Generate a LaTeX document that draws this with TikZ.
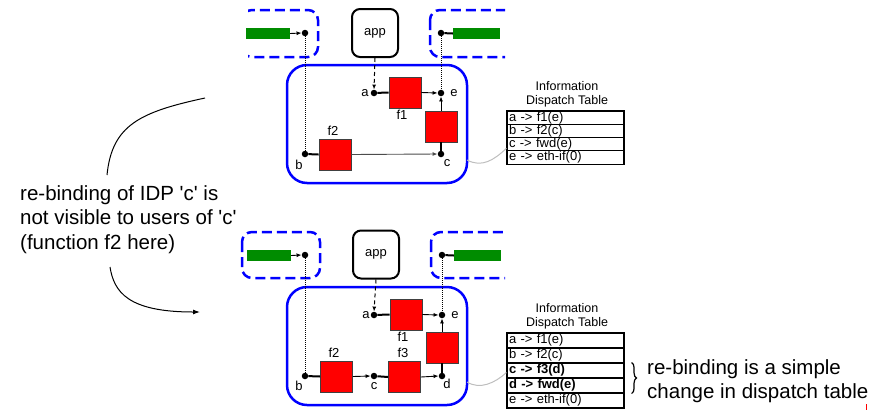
\documentclass[tikz,border=0pt]{standalone}
\usepackage{fontspec}
\setmainfont{Liberation Sans}
\usetikzlibrary{arrows.meta,decorations.pathreplacing,calc}
\definecolor{netblue}{RGB}{0,0,255}
\definecolor{ifgreen}{RGB}{0,140,0}
\definecolor{fnred}{RGB}{255,0,0}
\definecolor{leadgray}{RGB}{190,190,190}
\begin{document}
\begin{tikzpicture}[x=1pt,y=-1pt,
  smallfont/.style={font=\fontsize{12.5}{14}\selectfont},
  rowfont/.style={font=\fontsize{13}{14}\selectfont},
  lbl/.style={font=\fontsize{13}{14}\selectfont,inner sep=0pt},
  dot/.style={circle,fill=black,inner sep=0pt,minimum size=6.5pt},
  fn/.style={draw=black!75,line width=0.8pt,fill=fnred,minimum width=32pt,minimum height=31pt,inner sep=0pt},
  wire/.style={line width=2pt},
  flow/.style={line width=0.9pt,-{Latex[length=5pt,width=4pt]}},
  ifbar/.style={fill=ifgreen,minimum height=11pt,inner sep=0pt},
  hostbox/.style={draw=netblue,line width=2.5pt,rounded corners=20pt,minimum width=180pt,minimum height=118pt,inner sep=0pt},
  remote/.style={draw=netblue,line width=2.5pt,dash pattern=on 10pt off 5pt,rounded corners=10pt},
  appbox/.style={draw=black,line width=2pt,rounded corners=8pt,minimum width=46pt,minimum height=48pt,inner sep=0pt,font=\fontsize{13}{14}\selectfont},
  binding/.style={line width=0.7pt,dash pattern=on 1pt off 1pt},
  appcall/.style={line width=1pt,dash pattern=on 4pt off 3pt,-{Latex[length=5pt,width=4pt]}},
  idtrow/.style={draw=black,line width=1.1pt,minimum width=117pt,text width=113pt,align=left,inner xsep=2pt,inner ysep=0pt,rowfont},
  leader/.style={draw=leadgray,line width=1pt},
  bigtext/.style={font=\fontsize{20.5}{24.5}\selectfont,align=left,inner sep=0pt}
]
\useasboundingbox (0,0) rectangle (890,410);

% ---------------- before re-binding ----------------
\begin{scope}
  \begin{scope}
    \clip (248,0) rectangle (505,60);
    \draw[remote] (242,10) rectangle (318,57);
    \draw[remote] (430,10) rectangle (530,57);
  \end{scope}
  \node[ifbar,minimum width=44pt] (gL1) at (268,33.5) {};
  \node[ifbar,minimum width=47pt] (gR1) at (476.5,33.5) {};
  \node[appbox] (app1) at (375,33) {app};
  \node[hostbox] (host1) at (377,124) {};

  \node[dot] (dL1) at (305,33) {};
  \node[dot] (dR1) at (441,33) {};
  \node[dot] (a1) at (374,93) {};
  \node[dot] (e1) at (441,93) {};
  \node[dot] (b1) at (305,154) {};
  \node[dot] (c1) at (441,154) {};
  \node[fn] (f11) at (405,92.5) {};
  \node[fn] (fw1) at (441,126.5) {};
  \node[fn] (f21) at (335,154.5) {};

  \draw[binding] (dL1) -- (b1);
  \draw[binding] (dR1) -- (e1);
  \draw[flow] (gL1.east) -- (dL1.west);
  \draw[wire] (dR1) -- (gR1.west);
  \draw[appcall] (app1.south) -- (a1.north);
  \draw[wire] (a1) -- (f11.west);
  \draw[flow] (f11.east) -- (e1.west);
  \draw[flow] (fw1.north) -- (e1.south);
  \draw[wire] (fw1.south) -- (c1);
  \draw[wire] (b1) -- (f21.west);
  \draw[flow,draw=black!70] (f21.east) -- (c1.west);

  \node[lbl] (la1) at (365,93) {a};
  \node[lbl] (le1) at (454,93) {e};
  \node[lbl] (lf11) at (402,115) {f1};
  \node[lbl] (lf21) at (333,131) {f2};
  \node[lbl] (lb1) at (299,165) {b};
  \node[lbl] (lc1) at (447,163) {c};

  \node[smallfont,align=center,inner sep=0pt] (idt1) at (567,94.5) {Information\\Dispatch Table};
  \node[idtrow,minimum height=13.3pt] (r1a) at (565.5,117.65) {a -> f1(e)};
  \node[idtrow,minimum height=13.3pt] (r1b) at (565.5,130.95) {b -> f2(c)};
  \node[idtrow,minimum height=13.3pt] (r1c) at (565.5,144.25) {c -> fwd(e)};
  \node[idtrow,minimum height=13.3pt] (r1e) at (565.5,157.55) {e -> eth-if(0)};

  \coordinate (lead1) at (467,160);
  \draw[leader] (lead1) .. controls (482,168) and (494,160) .. ($(r1c.west)+(0,4)$);
\end{scope}

% ---------------- after re-binding ----------------
\begin{scope}[shift={(0,222)}]
  \draw[remote] (242,10) rectangle (320,56);
  \begin{scope}
    \clip (420,0) rectangle (505,60);
    \draw[remote] (431,10) rectangle (530,56);
  \end{scope}
  \node[ifbar,minimum width=44pt] (gL2) at (269,33.5) {};
  \node[ifbar,minimum width=47pt] (gR2) at (477.5,33.5) {};
  \node[appbox] (app2) at (376,32.5) {app};
  \node[hostbox] (host2) at (377,124) {};

  \node[dot] (dL2) at (305,33) {};
  \node[dot] (dR2) at (442,33) {};
  \node[dot] (a2) at (374,93) {};
  \node[dot] (e2) at (442,93) {};
  \node[dot] (b2) at (305,154) {};
  \node[dot] (c2) at (374,154) {};
  \node[dot] (d2) at (442,154) {};
  \node[fn] (f12) at (406,92.5) {};
  \node[fn] (fw2) at (442,125.5) {};
  \node[fn] (f22) at (336.5,154.5) {};
  \node[fn] (f32) at (404.5,155) {};

  \draw[binding] (dL2) -- (b2);
  \draw[binding] (dR2) -- (e2);
  \draw[flow] (gL2.east) -- (dL2.west);
  \draw[wire] (dR2) -- (gR2.west);
  \draw[appcall] (app2.south) -- (a2.north);
  \draw[wire] (a2) -- (f12.west);
  \draw[flow] (f12.east) -- (e2.west);
  \draw[flow] (fw2.north) -- (e2.south);
  \draw[wire] (fw2.south) -- (d2);
  \draw[wire] (b2) -- (f22.west);
  \draw[flow] (f22.east) -- (c2.west);
  \draw[wire] (c2) -- (f32.west);
  \draw[flow] (f32.east) -- (d2.west);

  \node[lbl] (la2) at (366,93) {a};
  \node[lbl] (le2) at (455,93) {e};
  \node[lbl] (lf12) at (403,115) {f1};
  \node[lbl] (lf22) at (334,131) {f2};
  \node[lbl] (lf32) at (403,131) {f3};
  \node[lbl] (lb2) at (299,164) {b};
  \node[lbl] (lc2) at (374,164) {c};
  \node[lbl] (ld2) at (447,162) {d};

  \node[smallfont,align=center,inner sep=0pt] (idt2) at (567,94) {Information\\Dispatch Table};
  \node[idtrow,minimum height=15pt] (r2a) at (565.5,118.5) {a -> f1(e)};
  \node[idtrow,minimum height=15pt] (r2b) at (565.5,133.5) {b -> f2(c)};
  \node[idtrow,minimum height=15pt] (r2c) at (565.5,148.5) {\bfseries c -> f3(d)};
  \node[idtrow,minimum height=15pt] (r2d) at (565.5,163.5) {\bfseries d -> fwd(e)};
  \node[idtrow,minimum height=15pt] (r2e) at (565.5,178.5) {e -> eth-if(0)};

  \coordinate (lead2) at (467,160);
  \draw[leader] (lead2) .. controls (480,168) and (495,161) .. ($(r2c.west)+(0,2)$);

  \draw[line width=1.2pt,decorate,decoration={brace,amplitude=5pt}]
    ($(r2c.north east)+(7,0)$) -- ($(r2d.south east)+(7,0)$);
  \node[bigtext,anchor=north west] (note2) at (647,137)
    {re-binding is a simple\\change in dispatch table};
\end{scope}

% ---------------- side remark ----------------
\node[bigtext,anchor=north west] (note1) at (20,185)
  {re-binding of IDP \textquotesingle c\textquotesingle\ is\\not visible to users of \textquotesingle c\textquotesingle\\(function f2 here)};
\coordinate (up0) at (107,175);
\coordinate (up1) at (205,98);
\coordinate (dn0) at (110,267);
\coordinate (dn1) at (200,312);
\draw[line width=1pt] (up0) .. controls (112,125) and (140,112) .. (up1);
\draw[line width=1pt,-{Latex[length=7pt,width=5pt]}] (dn0) .. controls (114,292) and (128,312) .. (dn1);

\coordinate (tick0) at (866,404);
\coordinate (tick1) at (866,410);
\draw[fnred,line width=1pt] (tick0) -- (tick1);
\end{tikzpicture}
\end{document}
